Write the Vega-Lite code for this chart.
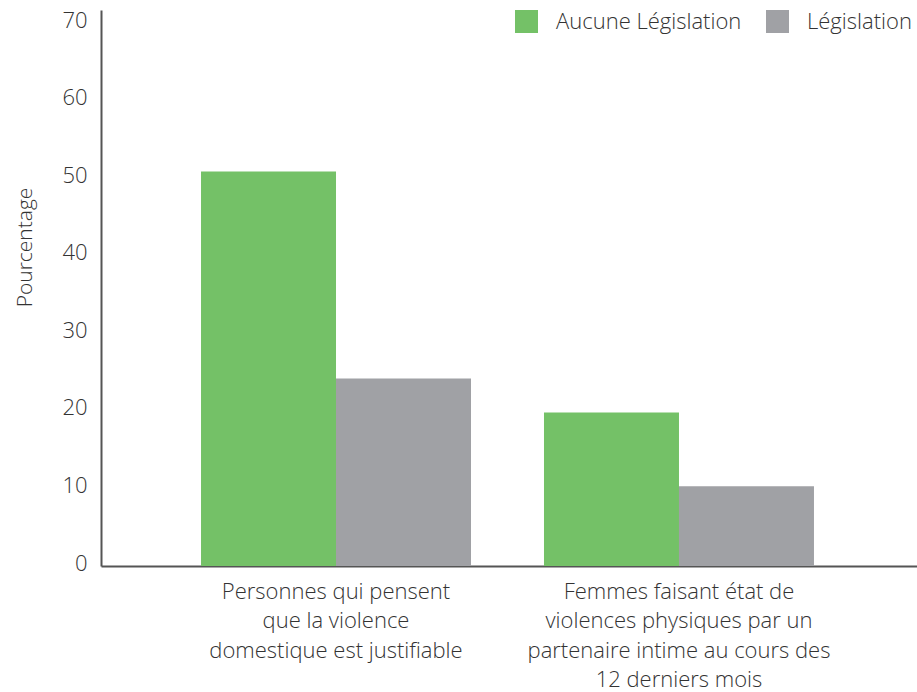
{
  "$schema": "https://vega.github.io/schema/vega-lite/v6.json",
  "width": 816,
  "height": 556,
  "autosize": {"type": "none"},
  "padding": {"left": 101, "top": 10, "right": 0, "bottom": 126},
  "background": "white",
  "config": {
    "view": {"stroke": null},
    "font": "Open Sans",
    "axis": {"labelFont": "Open Sans", "titleFont": "Open Sans", "labelColor": "#333333", "titleColor": "#333333", "labelFontWeight": 300, "titleFontWeight": 300}
  },
  "data": {
    "values": [
      {"cat": "Personnes qui pensent|que la violence|domestique est justifiable", "group": "Aucune Législation", "value": 50.9},
      {"cat": "Personnes qui pensent|que la violence|domestique est justifiable", "group": "Législation", "value": 24.2},
      {"cat": "Femmes faisant état de|violences physiques par un|partenaire intime au cours des|12 derniers mois", "group": "Aucune Législation", "value": 19.8},
      {"cat": "Femmes faisant état de|violences physiques par un|partenaire intime au cours des|12 derniers mois", "group": "Législation", "value": 10.3}
    ]
  },
  "mark": {"type": "bar"},
  "encoding": {
    "x": {
      "field": "cat", "type": "nominal", "sort": null,
      "scale": {"paddingInner": 0.2128, "paddingOuter": 0.296, "align": 0.4926},
      "axis": {
        "title": null, "labelAngle": 0, "ticks": false, "domainColor": "#555555", "domainWidth": 2,
        "labelExpr": "split(datum.label, '|')", "labelFontSize": 22, "labelLineHeight": 29.5,
        "labelPadding": 15, "labelBaseline": "top", "labelLimit": 400
      }
    },
    "xOffset": {"field": "group", "type": "nominal", "sort": ["Aucune Législation", "Législation"], "scale": {"paddingInner": 0, "paddingOuter": 0}},
    "y": {
      "field": "value", "type": "quantitative",
      "scale": {"domain": [0, 71.74], "nice": false},
      "axis": {
        "title": "Pourcentage", "titleFontSize": 21, "titleAngle": -90, "titleBaseline": "middle",
        "titleX": -76, "titleY": 237, "values": [0, 10, 20, 30, 40, 50, 60, 70],
        "grid": false, "ticks": false, "domainColor": "#555555", "domainWidth": 2,
        "labelFontSize": 22, "labelPadding": 14, "labelOffset": -3
      }
    },
    "color": {
      "field": "group", "type": "nominal",
      "scale": {"domain": ["Aucune Législation", "Législation"], "range": ["#74c167", "#a0a1a5"]},
      "legend": {
        "title": null, "orient": "none", "legendX": 414, "legendY": 0, "direction": "horizontal",
        "symbolType": "square", "symbolSize": 529, "symbolStrokeWidth": 0, "labelFontSize": 22, "labelFont": "Open Sans",
        "labelFontWeight": 300, "labelColor": "#333333", "labelOffset": 18, "columnPadding": 24, "padding": 0, "labelLimit": 400
      }
    }
  }
}
